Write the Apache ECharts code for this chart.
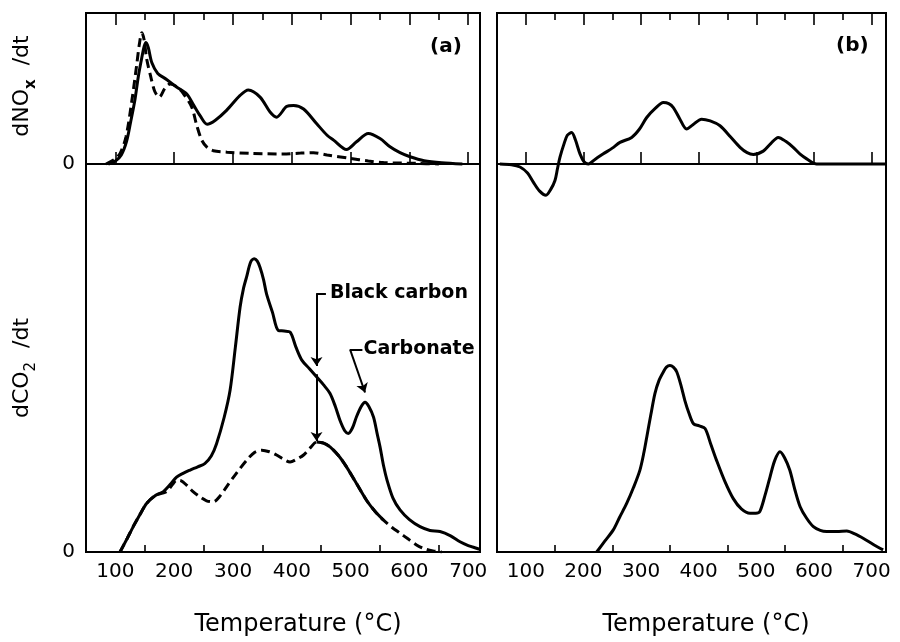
<!DOCTYPE html>
<html><head><meta charset="utf-8">
<script src="https://cdn.jsdelivr.net/npm/echarts@6/dist/echarts.min.js"></script>
<style>html,body{margin:0;padding:0;background:#fff}#c{width:900px;height:642px}</style>
</head><body><div id="c"></div>
<script>
// ---------- data (temperature °C, arbitrary rate units) ----------
const tickLabels = [100, 200, 300, 400, 500, 600, 700];
const minorTicks = [150, 250, 350, 450, 550, 650];
const xTitle = 'Temperature (°C)';
const panelLabels = ['(a)', '(b)'];

const noxA_solid = [[88,0],[100,2],[110,6],[119,15],[126,28],[133,42],[139,58],[144.7,70],[149,78],[152,80.5],[156,77],[162,67],[172,60],[187,56],[204,51],[221,46.5],[233,39],[244,32],[256,26.3],[270,29],[289,35.5],[312,45.4],[326,49],[346,44.3],[363,34.4],[374,31],[391,38],[403,38.8],[420,36.4],[442,26.8],[460,19],[471,15.8],[493,9.6],[510,14.7],[530,20.2],[550,16.9],[567,11.4],[584,7.5],[601,4.8],[625,2.2],[655,0.8],[690,0]];
const noxA_dashed = [[84,0],[98,3],[108,7],[118,18],[128,42],[136,65],[141,80],[145,87],[149,82],[153,70],[160,58],[167,48],[174.7,44.3],[184,50],[193,53],[205,51],[215,47],[229.8,37.7],[238,26],[246.8,15.8],[256,11],[266.5,8.8],[290,7.8],[329,7],[385,6.6],[415,7.2],[437,7.5],[460,6],[499,3.7],[530,2],[556,0.9],[612,0.4],[650,0]];
const noxB = [[55,0],[75,-0.5],[90,-2],[103,-6],[113,-12],[124,-18],[135,-20.7],[143,-17],[150.6,-10.9],[155,-3],[159.3,4.5],[166,13],[172,19],[179.6,20.9],[186,16],[194,6.7],[201,1.5],[208.5,0],[220,3],[234.5,6.7],[250,10.5],[263.4,14.3],[283.7,17.6],[297,23],[309.8,30.8],[325,37],[338.6,40.7],[348,40],[356,37.4],[367,30],[379,23.2],[390,26],[405,29.7],[420,28.5],[437,25.3],[455,18],[471.7,11],[484,7.5],[494.8,6.3],[512,8.5],[525,13.5],[538,17.6],[551,15],[564,11],[576,6.5],[587.4,3.4],[604.7,0],[725,0]];
const co2A_solid = [[107.8,0],[120,2.5],[130.4,4.7],[142,7],[153,9],[168,10.5],[181.5,11.2],[193,12.5],[204,13.9],[215,14.6],[227,15.2],[240,15.8],[252,16.4],[263,17.8],[272,20.1],[285,25],[295,30],[304,38],[312,45.4],[318,49],[323,51],[330,53.8],[336,54.4],[341,54],[346,52.8],[352,50.5],[357,47.9],[367,44.5],[377,41.1],[387,41],[397,40.8],[407,38],[417,35.6],[430,34],[442,32.5],[454,31],[465,29.4],[474,27],[482,24.4],[490,22.5],[496,22],[503,23],[510,25.1],[518,27],[524.5,27.8],[531,27],[539,25],[545,22],[550,19.5],[556,16],[562,13.3],[572,10],[584,7.8],[600,6],[618,4.7],[635,4],[652,3.8],[670,3],[686,1.9],[700,1.2],[714,0.7],[720,0.5]];
const co2A_dashed = [[107.8,0],[120,2.5],[130,4.7],[142,7],[153,9],[168,10.5],[187,11.2],[197,12.5],[204,13.3],[212,13.2],[221,12.4],[232,11.2],[244,10.2],[255,9.5],[266.5,9.3],[278,10.4],[289,12.1],[305,14.5],[323,17],[337,18.5],[349,18.9],[362,18.6],[374,18],[386,17.2],[397,16.7],[408,17.2],[420,18],[432,19.4],[442,20.4],[454,20.2],[465,19.5],[480,17.8],[493,15.8],[510,12.7],[527,9.6],[541,7.6],[556,5.9],[570,4.6],[584,3.5],[598,2.4],[612,1.3],[625,0.6],[640,0.2],[655,0]];
const co2B = [[223,0],[237,2],[251.8,4.1],[263,6.5],[275,9],[287,12],[298,15.2],[305,18.5],[310,21.4],[317,25.5],[324,29.4],[331,31.8],[338.6,33.4],[344,34.3],[350,34.6],[356,34.3],[362,33.4],[369,31],[376,28.1],[383,25.8],[391,23.8],[401,23.4],[411,22.9],[421,20],[431,17],[445,13.2],[460,9.9],[474,8],[489,7.2],[499,7.2],[506,7.5],[515,10.5],[523.7,13.9],[532,17],[541,18.6],[549,17.5],[558,15.2],[567,11.5],[576,8.4],[587,6.3],[599,4.7],[611,4],[622,3.8],[640,3.8],[657,3.9],[672,3.3],[686,2.5],[703,1.4],[720,0.4]];
// part of the dashed CO2 trace that was drawn as a continuous stroke
const co2A_continuousRun = [442, 556];

// annotation anchors (data coordinates: T, dCO2/dt)
const blackCarbon = {label: 'Black carbon', T: 442, top: 48, hitSolid: 34.5, hitDashed: 20.6, textT: 464, textV: 48};
const carbonate = {label: 'Carbonate', corner: [499, 37.6], start: [520, 37.6], tip: [524.5, 29.6], textT: 521, textV: 37.6};

// ---------- chart ----------
const F = 'DejaVu Sans';
const chart = echarts.init(document.getElementById('c'), null, {renderer: 'canvas'});
const NOXMIN = -257, NOXMAX = 100;

function xAxes(gi, max, namePad) {
  const base = {gridIndex: gi, type: 'value', min: 50, max: max, splitLine: {show: false}, axisLine: {show: false}};
  const tk = (vals, len) => ({show: true, inside: true, length: len, customValues: vals, lineStyle: {color: '#000', width: 1.6}});
  return [
    Object.assign({}, base, {position: 'bottom', axisTick: tk(tickLabels, 12),
      axisLabel: {show: true, customValues: tickLabels, showMinLabel: true, showMaxLabel: true,
        formatter: v => (tickLabels.indexOf(v) >= 0 ? String(v) : ''),
        color: '#000', fontFamily: F, fontSize: 20, margin: 10},
      name: xTitle, nameLocation: 'middle', nameGap: 61,
      nameTextStyle: {color: '#000', fontFamily: F, fontSize: 24, padding: [0, 0, 0, namePad]}}),
    Object.assign({}, base, {position: 'bottom', axisTick: tk(minorTicks, 7), axisLabel: {show: false}}),
    Object.assign({}, base, {position: 'top', axisTick: tk(tickLabels, 12), axisLabel: {show: false}}),
    Object.assign({}, base, {position: 'top', axisTick: tk(minorTicks, 7), axisLabel: {show: false}})
  ];
}
function yAxis(gi, min, max, labelVals) {
  return {gridIndex: gi, type: 'value', min: min, max: max, position: 'left',
    axisLine: {show: false}, axisTick: {show: false}, splitLine: {show: false},
    axisLabel: labelVals ? {show: true, customValues: labelVals, showMinLabel: true, showMaxLabel: true, formatter: () => '0',
      color: '#000', fontFamily: F, fontSize: 20, margin: 11} : {show: false}};
}
const solidStyle = {color: '#000', width: 3};
const dashStyle = {color: '#000', width: 3, type: [9, 5]};
function line(data, xi, yi, style, extra) {
  return Object.assign({type: 'line', data: data, xAxisIndex: xi, yAxisIndex: yi, smooth: 0.3,
    symbol: 'none', lineStyle: style, silent: true, z: 3}, extra || {});
}
const zeroLine = {silent: true, symbol: ['none', 'none'], label: {show: false},
  lineStyle: {color: '#000', width: 2, type: 'solid'}, data: [{yAxis: 0}]};

const co2A_run = co2A_dashed.filter(p => p[0] >= co2A_continuousRun[0] && p[0] <= co2A_continuousRun[1]);

const annLines = {
  silent: true, label: {show: false}, symbolSize: 9,
  lineStyle: {color: '#000', width: 2, type: 'solid'},
  data: [
    [{coord: [blackCarbon.T, blackCarbon.top], symbol: 'none'}, {coord: [blackCarbon.textT - 6, blackCarbon.top], symbol: 'none'}],
    [{coord: [blackCarbon.T, blackCarbon.top], symbol: 'none'}, {coord: [blackCarbon.T, blackCarbon.hitSolid], symbol: 'arrow'}],
    [{coord: [blackCarbon.T, blackCarbon.hitSolid - 1.5], symbol: 'none'}, {coord: [blackCarbon.T, blackCarbon.hitDashed], symbol: 'arrow'}],
    [{coord: carbonate.start, symbol: 'none'}, {coord: carbonate.corner, symbol: 'none'}],
    [{coord: carbonate.corner, symbol: 'none'}, {coord: carbonate.tip, symbol: 'arrow'}]
  ]
};
const annText = {
  silent: true, symbol: 'circle', symbolSize: 1, itemStyle: {color: 'rgba(0,0,0,0)'},
  label: {show: true, position: 'right', distance: 0, color: '#000', fontFamily: F, fontWeight: 'bold', fontSize: 19, formatter: p => p.name},
  data: [
    {name: blackCarbon.label, coord: [blackCarbon.textT, blackCarbon.textV]},
    {name: carbonate.label, coord: [carbonate.textT, carbonate.textV]}
  ]
};

const option = {
  animation: false,
  backgroundColor: '#fff',
  grid: [
    {left: 86, top: 13, width: 394, height: 539, show: true, borderColor: '#000', borderWidth: 2, backgroundColor: 'transparent'},
    {left: 497, top: 13, width: 389, height: 539, show: true, borderColor: '#000', borderWidth: 2, backgroundColor: 'transparent'}
  ],
  xAxis: xAxes(0, 720, 30).concat(xAxes(1, 725, 29)),
  yAxis: [
    // NOx axis carries both "0" marks: its own zero and the grid floor (CO2 zero)
    yAxis(0, NOXMIN, NOXMAX, [NOXMIN, 0]),
    yAxis(0, 0, 100, null),
    yAxis(1, NOXMIN, NOXMAX, null),
    yAxis(1, 0, 100, null)
  ],
  series: [
    line(noxA_solid, 0, 0, solidStyle, {markLine: zeroLine}),
    line(noxA_dashed, 0, 0, dashStyle),
    line(co2A_solid, 0, 1, solidStyle),
    line(co2A_dashed, 0, 1, dashStyle, {markLine: annLines, markPoint: annText}),
    line(co2A_run, 0, 1, solidStyle),
    line(noxB, 4, 2, solidStyle, {markLine: zeroLine}),
    line(co2B, 4, 3, solidStyle)
  ],
  graphic: [
    {type: 'text', left: 430, top: 37, style: {text: panelLabels[0], font: 'bold 20px "DejaVu Sans"', fill: '#000'}},
    {type: 'text', left: 836, top: 36, style: {text: panelLabels[1], font: 'bold 20px "DejaVu Sans"', fill: '#000'}},
    {type: 'text', x: 25, y: 86, rotation: Math.PI / 2,
      style: {text: '{a|dNO}{s|x}{a|  /dt}', align: 'center', verticalAlign: 'middle', fill: '#000',
        rich: {a: {fontFamily: F, fontSize: 22, verticalAlign: 'bottom', padding: [0, 0, 5, 0]},
               s: {fontFamily: F, fontSize: 15, fontWeight: 'bold', verticalAlign: 'bottom'}}}},
    {type: 'text', x: 25, y: 368, rotation: Math.PI / 2,
      style: {text: '{a|dCO}{s|2}{a|  /dt}', align: 'center', verticalAlign: 'middle', fill: '#000',
        rich: {a: {fontFamily: F, fontSize: 22, verticalAlign: 'bottom', padding: [0, 0, 5, 0]},
               s: {fontFamily: F, fontSize: 15, verticalAlign: 'bottom'}}}}
  ]
};
chart.setOption(option);
</script></body></html>
